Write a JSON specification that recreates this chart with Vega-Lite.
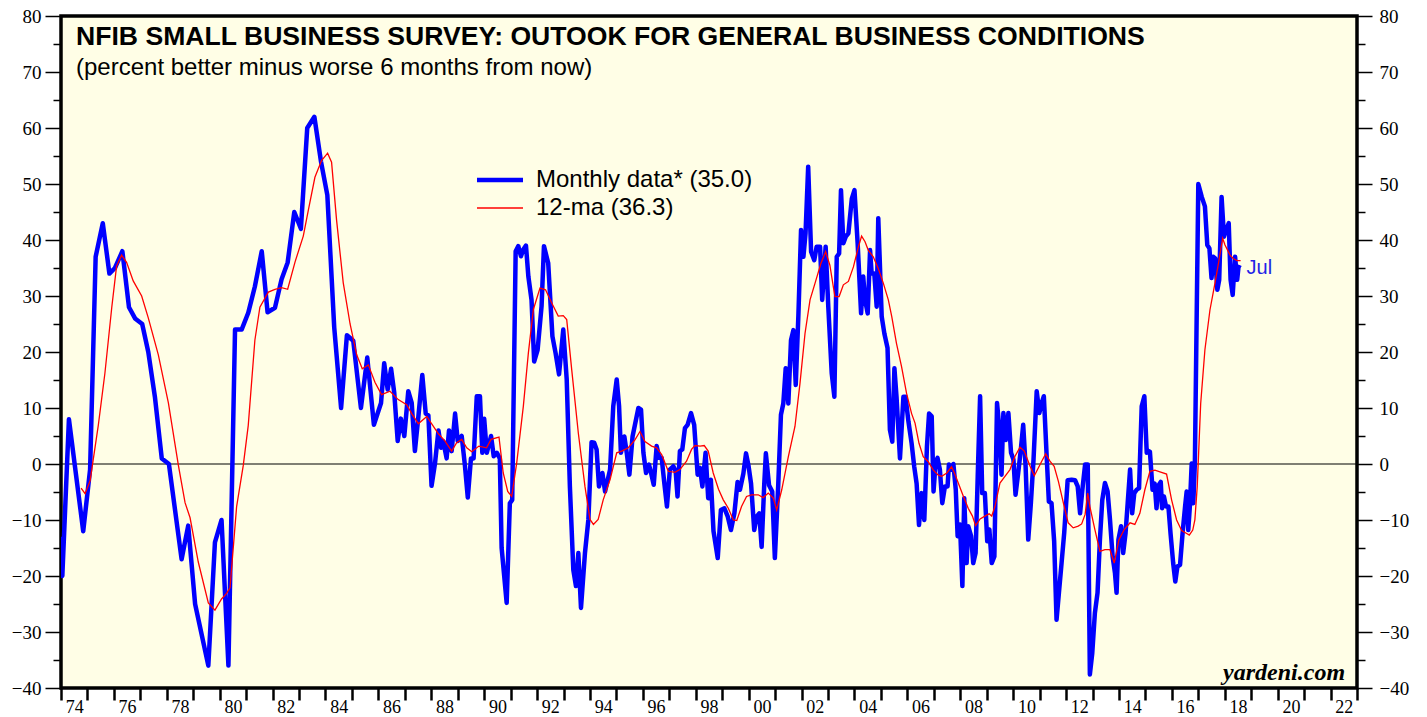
{
"$schema": "https://vega.github.io/schema/vega-lite/v6.json",
"width": 1296,
"height": 672,
"autosize": "none",
"padding": {"left": 61, "top": 16, "right": 70, "bottom": 29},
"background": "white",
"title": {"text": "NFIB SMALL BUSINESS SURVEY: OUTOOK FOR GENERAL BUSINESS CONDITIONS", "subtitle": "(percent better minus worse 6 months from now)", "anchor": "start", "frame": "group", "orient": "top", "dx": 15, "offset": -73, "font": "Liberation Sans", "fontSize": 26.6, "fontWeight": "bold", "color": "black", "subtitleFont": "Liberation Sans", "subtitleFontSize": 24, "subtitleColor": "black", "subtitlePadding": 5},
"datasets": {
"m": [
{"t":1974.0,"v":-13},{"t":1974.05,"v":-20},{"t":1974.3,"v":8},{"t":1974.84,"v":-12},{"t":1975.1,"v":-1},{"t":1975.31,"v":37},{"t":1975.58,"v":43},{"t":1975.83,"v":34},{"t":1976.04,"v":35},{"t":1976.32,"v":38},{"t":1976.57,"v":28},{"t":1976.8,"v":26},{"t":1977.07,"v":25},{"t":1977.3,"v":20},{"t":1977.55,"v":12},{"t":1977.81,"v":1},{"t":1978.08,"v":0},{"t":1978.56,"v":-17},{"t":1978.81,"v":-11},{"t":1979.07,"v":-25},{"t":1979.32,"v":-30.5},{"t":1979.57,"v":-36},{"t":1979.82,"v":-14},{"t":1980.07,"v":-10},{"t":1980.33,"v":-36},{"t":1980.58,"v":24},{"t":1980.83,"v":24},{"t":1981.08,"v":27},{"t":1981.33,"v":31.7},{"t":1981.59,"v":38},{"t":1981.81,"v":27.1},{"t":1982.09,"v":27.9},
{"t":1982.34,"v":33},{"t":1982.57,"v":36},{"t":1982.82,"v":45},{"t":1983.07,"v":42},{"t":1983.31,"v":60},{"t":1983.58,"v":62},{"t":1983.83,"v":54},{"t":1984.07,"v":48},{"t":1984.33,"v":24.4},{"t":1984.59,"v":10},{"t":1984.81,"v":23},{"t":1985.05,"v":22},{"t":1985.34,"v":10},{"t":1985.58,"v":19},{"t":1985.83,"v":7},
{"t":1986.1,"v":10.9},{"t":1986.22,"v":18},{"t":1986.35,"v":13.3},{"t":1986.48,"v":17},{"t":1986.6,"v":12.7},{"t":1986.73,"v":4.1},{"t":1986.85,"v":8.1},{"t":1986.98,"v":5},{"t":1987.13,"v":13},{"t":1987.26,"v":10.9},{"t":1987.38,"v":2.3},{"t":1987.51,"v":8.4},{"t":1987.66,"v":15.9},{"t":1987.79,"v":9},{"t":1987.89,"v":8.7},{"t":1988.01,"v":-3.9},{"t":1988.14,"v":0.1},{"t":1988.27,"v":6},{"t":1988.37,"v":2.9},{"t":1988.45,"v":4.1},{"t":1988.58,"v":1},{"t":1988.67,"v":6},{"t":1988.77,"v":2.3},{"t":1988.9,"v":9},{"t":1989.0,"v":4.1},{"t":1989.15,"v":5},{"t":1989.27,"v":-0.2},{"t":1989.38,"v":-6},{"t":1989.5,"v":1},{"t":1989.6,"v":1},{"t":1989.72,"v":12.1},{"t":1989.84,"v":12.1},{"t":1989.93,"v":2},{"t":1990.0,"v":8.1},{"t":1990.1,"v":2},{"t":1990.26,"v":5},{"t":1990.36,"v":1.4},{"t":1990.48,"v":2},{"t":1990.59,"v":1},
{"t":1990.66,"v":-15},{"t":1990.85,"v":-24.8},{"t":1990.97,"v":-7},{"t":1991.06,"v":-6.4},{"t":1991.19,"v":38},{"t":1991.29,"v":38.9},{"t":1991.39,"v":37.1},{"t":1991.48,"v":38.3},{"t":1991.58,"v":39},{"t":1991.67,"v":33.5},{"t":1991.79,"v":29.3},{"t":1991.89,"v":18.3},{"t":1992.02,"v":20.4},{"t":1992.17,"v":28.2},{"t":1992.26,"v":38.9},{"t":1992.42,"v":35.9},{"t":1992.58,"v":22.8},{"t":1992.7,"v":19.8},{"t":1992.83,"v":16},{"t":1992.99,"v":24},{"t":1993.12,"v":15.1},{"t":1993.24,"v":-4},{"t":1993.37,"v":-18.9},{"t":1993.47,"v":-21.8},{"t":1993.56,"v":-15.9},{"t":1993.66,"v":-25.7},{"t":1993.81,"v":-15.9},{"t":1993.94,"v":-9.9},{"t":1994.06,"v":3.9},{"t":1994.16,"v":3.8},{"t":1994.25,"v":2.6},{"t":1994.34,"v":-4},{"t":1994.47,"v":-1.6},{"t":1994.57,"v":-4.9},{"t":1994.76,"v":-1},{"t":1994.88,"v":10.3},{"t":1995.01,"v":15.1},{"t":1995.1,"v":10.3},{"t":1995.17,"v":2},{"t":1995.3,"v":4.9},{"t":1995.39,"v":2},{"t":1995.49,"v":-1.9},{"t":1995.61,"v":4.9},{"t":1995.83,"v":10},{"t":1995.93,"v":9.7},{"t":1996.02,"v":2},{"t":1996.12,"v":-1.6},{"t":1996.23,"v":-0.1},{"t":1996.31,"v":-1.6},{"t":1996.41,"v":-3.7},{"t":1996.52,"v":3.2},{"t":1996.62,"v":1.1},{"t":1996.71,"v":1.1},{"t":1996.81,"v":-3.4},{"t":1996.91,"v":-7.6},{"t":1997.02,"v":-1},{"t":1997.15,"v":-0.4},{"t":1997.24,"v":-1.3},{"t":1997.31,"v":-5.8},{"t":1997.4,"v":2.3},{"t":1997.49,"v":2.6},{"t":1997.59,"v":6.4},{"t":1997.69,"v":7},{"t":1997.82,"v":9.1},{"t":1997.94,"v":7},{"t":1998.07,"v":-1.9},{"t":1998.16,"v":-0.7},{"t":1998.25,"v":-4},{"t":1998.37,"v":2},{"t":1998.47,"v":-6.1},{"t":1998.57,"v":-2.8},{"t":1998.67,"v":-12},
{"t":1998.83,"v":-16.8},{"t":1998.95,"v":-8.2},{"t":1999.08,"v":-7.9},{"t":1999.21,"v":-9.4},{"t":1999.33,"v":-11.8},{"t":1999.46,"v":-8.8},{"t":1999.58,"v":-3.2},{"t":1999.67,"v":-4.6},{"t":1999.8,"v":-1.7},{"t":1999.9,"v":1.9},{"t":1999.99,"v":-0.2},{"t":2000.09,"v":-3.5},{"t":2000.21,"v":-11.8},{"t":2000.3,"v":-9.4},{"t":2000.4,"v":-8.8},{"t":2000.49,"v":-14.8},{"t":2000.59,"v":-3.5},{"t":2000.65,"v":1.9},{"t":2000.77,"v":-3.8},{"t":2000.89,"v":-4.9},{"t":2000.99,"v":-16.8},{"t":2001.12,"v":-3.5},{"t":2001.22,"v":8.8},{"t":2001.31,"v":10.8},{"t":2001.4,"v":17.1},{"t":2001.5,"v":10.8},{"t":2001.6,"v":22.1},{"t":2001.69,"v":23.9},{"t":2001.78,"v":14.1},{"t":2001.88,"v":26.6},{"t":2001.98,"v":41.8},{"t":2002.07,"v":37},{"t":2002.15,"v":41.2},{"t":2002.25,"v":53.1},{"t":2002.36,"v":37.9},{"t":2002.48,"v":36.4},{"t":2002.57,"v":38.8},{"t":2002.7,"v":38.8},{"t":2002.78,"v":29.3},{"t":2002.91,"v":38.8},{"t":2003.01,"v":28.1},{"t":2003.14,"v":16.2},{"t":2003.24,"v":12},{"t":2003.33,"v":37},{"t":2003.42,"v":37.6},{"t":2003.49,"v":48.9},{"t":2003.58,"v":39.4},{"t":2003.67,"v":40.6},{"t":2003.77,"v":41.2},{"t":2003.9,"v":47.4},{"t":2004.0,"v":48.9},{"t":2004.12,"v":39.4},{"t":2004.25,"v":26.9},{"t":2004.33,"v":33.5},{"t":2004.4,"v":29.3},{"t":2004.5,"v":26.9},{"t":2004.59,"v":38.2},{"t":2004.65,"v":34},{"t":2004.75,"v":34},{"t":2004.84,"v":28.1},{"t":2004.9,"v":43.9},{"t":2005.03,"v":26.3},{"t":2005.13,"v":23.3},{"t":2005.25,"v":20.7},{"t":2005.34,"v":6.1},{"t":2005.43,"v":4},{"t":2005.51,"v":17.1},{"t":2005.59,"v":12},{"t":2005.72,"v":1},{"t":2005.85,"v":12},{"t":2005.93,"v":12},{"t":2006.04,"v":7.6},{"t":2006.16,"v":3.7},{"t":2006.26,"v":-0.5},{"t":2006.35,"v":-3.5},{"t":2006.44,"v":-10.9},{"t":2006.54,"v":-5.2},{"t":2006.64,"v":-10},{"t":2006.74,"v":3.1},{"t":2006.82,"v":9},{"t":2006.92,"v":8.5},{"t":2006.99,"v":-4.9},
{"t":2007.07,"v":0.4},{"t":2007.14,"v":1.1},{"t":2007.23,"v":-1},{"t":2007.32,"v":-7},{"t":2007.42,"v":-4},{"t":2007.52,"v":-4},{"t":2007.57,"v":-0.1},{"t":2007.67,"v":-1},{"t":2007.74,"v":0},{"t":2007.83,"v":-4.6},{"t":2007.9,"v":-12.9},{"t":2007.99,"v":-10.8},{"t":2008.08,"v":-21.8},{"t":2008.15,"v":-6.1},{"t":2008.24,"v":-17.7},{"t":2008.3,"v":-11.1},{"t":2008.41,"v":-12.9},{"t":2008.49,"v":-17.7},{"t":2008.58,"v":-15.9},{"t":2008.66,"v":-2.2},{"t":2008.75,"v":12.1},{"t":2008.83,"v":-5.2},{"t":2008.93,"v":-5.2},{"t":2009.02,"v":-13.8},{"t":2009.1,"v":-11.7},{"t":2009.19,"v":-17.7},{"t":2009.29,"v":-16.5},{"t":2009.39,"v":10.9},{"t":2009.46,"v":7.3},{"t":2009.56,"v":-1.9},{"t":2009.63,"v":9.1},{"t":2009.72,"v":4.3},{"t":2009.82,"v":9.1},{"t":2009.92,"v":2},{"t":2010.01,"v":0.8},{"t":2010.09,"v":-5.5},{"t":2010.19,"v":-1.6},{"t":2010.29,"v":2.6},{"t":2010.38,"v":7},{"t":2010.47,"v":-0.4},{"t":2010.57,"v":-13.5},{"t":2010.67,"v":-7},{"t":2010.77,"v":0.8},{"t":2010.89,"v":13},{"t":2010.99,"v":9.1},{"t":2011.08,"v":10.9},{"t":2011.16,"v":12.1},{"t":2011.27,"v":1.1},{"t":2011.35,"v":-6.7},{"t":2011.45,"v":-7},{"t":2011.55,"v":-13.8},{"t":2011.64,"v":-27.8},{"t":2011.73,"v":-23},{"t":2011.83,"v":-17.7},{"t":2011.93,"v":-12.3},{"t":2012.06,"v":-2.9},{"t":2012.21,"v":-2.8},{"t":2012.34,"v":-2.9},{"t":2012.44,"v":-4},{"t":2012.53,"v":-8.8},{"t":2012.63,"v":-4},{"t":2012.72,"v":-0.1},{"t":2012.82,"v":-0.1},{"t":2012.9,"v":-37.6},{"t":2012.99,"v":-33.8},{"t":2013.09,"v":-26.6},{"t":2013.19,"v":-23},{"t":2013.28,"v":-13.5},{"t":2013.37,"v":-6.4},{"t":2013.47,"v":-3.4},{"t":2013.57,"v":-4.9},{"t":2013.66,"v":-9.9},{"t":2013.76,"v":-16.5},{"t":2013.85,"v":-19.5},{"t":2013.91,"v":-23},{"t":2013.98,"v":-13.5},{"t":2014.08,"v":-11.1},{"t":2014.16,"v":-15.9},{"t":2014.25,"v":-12.3},{"t":2014.33,"v":-7},{"t":2014.42,"v":-1},{"t":2014.5,"v":-8.8},{"t":2014.58,"v":-5.2},{"t":2014.67,"v":-4.6},{"t":2014.76,"v":-4.3},{"t":2014.86,"v":10.3},{"t":2014.96,"v":12.1},{"t":2015.05,"v":2},{"t":2015.13,"v":2.3},
{"t":2015.17,"v":2.2},{"t":2015.27,"v":-4.6},{"t":2015.35,"v":-3.5},{"t":2015.42,"v":-7.9},{"t":2015.5,"v":-3.8},{"t":2015.58,"v":-3.2},{"t":2015.63,"v":-7.9},{"t":2015.7,"v":-5.8},{"t":2015.78,"v":-7.6},{"t":2015.87,"v":-7.6},{"t":2015.95,"v":-12.4},{"t":2016.05,"v":-17.7},{"t":2016.13,"v":-21},{"t":2016.21,"v":-18.3},{"t":2016.31,"v":-18},{"t":2016.41,"v":-12.1},{"t":2016.5,"v":-7.6},{"t":2016.56,"v":-4.9},{"t":2016.62,"v":-11.8},{"t":2016.68,"v":-7.6},{"t":2016.75,"v":0.1},{"t":2016.81,"v":-7},{"t":2016.87,"v":0.1},{"t":2017.0,"v":50},{"t":2017.13,"v":47.7},{"t":2017.25,"v":46},{"t":2017.34,"v":39.1},{"t":2017.42,"v":38.5},{"t":2017.5,"v":33.2},{"t":2017.57,"v":37},{"t":2017.64,"v":36.7},{"t":2017.72,"v":31.1},{"t":2017.79,"v":32.9},{"t":2017.88,"v":47.7},{"t":2017.97,"v":40.6},{"t":2018.05,"v":41.8},{"t":2018.15,"v":43},{"t":2018.22,"v":32.9},{"t":2018.3,"v":30.2},{"t":2018.39,"v":37},{"t":2018.47,"v":32.9},{"t":2018.52,"v":35.2},{"t":2018.6,"v":35}
],
"ma": [
{"t":1974.76,"v":-4.3},{"t":1974.91,"v":-5.3},{"t":1975.1,"v":-3},{"t":1975.41,"v":6.9},{"t":1975.66,"v":16.2},{"t":1975.92,"v":28},{"t":1976.1,"v":35.3},{"t":1976.29,"v":37.3},{"t":1976.48,"v":36},{"t":1976.73,"v":32.7},{"t":1977.05,"v":30},{"t":1977.3,"v":26.1},{"t":1977.68,"v":19.5},{"t":1978.06,"v":10.9},{"t":1978.44,"v":-0.3},{"t":1978.69,"v":-6.9},{"t":1978.88,"v":-9.6},{"t":1979.19,"v":-17.5},{"t":1979.57,"v":-24.8},{"t":1979.82,"v":-26.1},{"t":1980.07,"v":-24.1},{"t":1980.26,"v":-23.1},{"t":1980.39,"v":-22.1},{"t":1980.64,"v":-7.6},{"t":1980.89,"v":-0.3},{"t":1981.08,"v":6.9},{"t":1981.33,"v":22.1},{"t":1981.52,"v":28},{"t":1981.84,"v":30.7},{"t":1982.09,"v":31.2},{"t":1982.34,"v":31.5},{"t":1982.57,"v":31.2},{"t":1982.85,"v":36.1},{"t":1983.16,"v":40.7},{"t":1983.35,"v":45.3},{"t":1983.6,"v":51.2},{"t":1983.85,"v":54.2},{"t":1984.08,"v":55.5},{"t":1984.23,"v":53.9},{"t":1984.42,"v":43.5},{"t":1984.67,"v":32.4},{"t":1984.93,"v":25},{"t":1985.18,"v":19.5},{"t":1985.39,"v":17},{"t":1985.62,"v":17.7},{"t":1985.87,"v":14.6},{"t":1986.12,"v":12.4},{"t":1986.44,"v":13},{"t":1986.75,"v":11.5},{"t":1987.07,"v":10.6},{"t":1987.26,"v":9},{"t":1987.51,"v":7.2},{"t":1987.83,"v":8.5},{"t":1988.01,"v":7.2},{"t":1988.27,"v":5.4},{"t":1988.52,"v":4.1},{"t":1988.77,"v":2.3},{"t":1988.96,"v":3.8},{"t":1989.15,"v":4.4},{"t":1989.34,"v":2.9},{"t":1989.53,"v":2.2},{"t":1989.8,"v":3.2},{"t":1990.09,"v":2.9},{"t":1990.26,"v":4.4},{"t":1990.56,"v":4.8},{"t":1990.72,"v":-1.6},{"t":1990.89,"v":-4.9},{"t":1991.04,"v":-5.8},{"t":1991.23,"v":0.2},{"t":1991.48,"v":10.3},{"t":1991.67,"v":19.8},{"t":1991.86,"v":27.6},{"t":1992.11,"v":31.4},{"t":1992.32,"v":31.1},{"t":1992.55,"v":28.8},{"t":1992.8,"v":26.4},{"t":1992.99,"v":26.5},{"t":1993.12,"v":25.8},{"t":1993.31,"v":16.8},{"t":1993.56,"v":5.5},{"t":1993.81,"v":-4},{"t":1994.0,"v":-9.9},{"t":1994.13,"v":-10.8},{"t":1994.31,"v":-9.9},{"t":1994.5,"v":-6.4},{"t":1994.76,"v":-2.8},{"t":1995.01,"v":2},{"t":1995.2,"v":2.3},{"t":1995.45,"v":2.9},{"t":1995.7,"v":4.3},{"t":1995.89,"v":5.8},{"t":1996.08,"v":4},{"t":1996.33,"v":3.2},{"t":1996.52,"v":2.9},{"t":1996.71,"v":1.7},{"t":1996.96,"v":-1.3},{"t":1997.21,"v":-1.5},{"t":1997.4,"v":-1},{"t":1997.65,"v":0.5},{"t":1997.84,"v":2.6},{"t":1997.97,"v":3.3},{"t":1998.16,"v":3.2},{"t":1998.32,"v":3.3},{"t":1998.47,"v":2.3},{"t":1998.66,"v":-1.6},{"t":1998.86,"v":-4.5},{"t":1999.04,"v":-6.4},{"t":1999.23,"v":-7.9},{"t":1999.42,"v":-10},{"t":1999.55,"v":-10.1},{"t":1999.73,"v":-7.6},{"t":1999.92,"v":-5.8},{"t":2000.11,"v":-5.5},{"t":2000.36,"v":-5.5},{"t":2000.55,"v":-6},{"t":2000.74,"v":-5.2},{"t":2000.93,"v":-6.1},{"t":2001.06,"v":-8.2},{"t":2001.25,"v":-4.6},{"t":2001.5,"v":1.3},{"t":2001.75,"v":6.7},{"t":2001.94,"v":14.4},{"t":2002.13,"v":23.3},{"t":2002.32,"v":29.3},{"t":2002.51,"v":32.3},{"t":2002.73,"v":35.8},{"t":2002.91,"v":37.9},{"t":2003.07,"v":35.5},{"t":2003.26,"v":29.9},{"t":2003.42,"v":29.9},{"t":2003.58,"v":32},{"t":2003.77,"v":32.6},{"t":2003.96,"v":35.2},{"t":2004.15,"v":38.8},{"t":2004.27,"v":40.7},{"t":2004.4,"v":39.7},{"t":2004.52,"v":38.2},{"t":2004.71,"v":37},{"t":2004.9,"v":34.9},{"t":2005.09,"v":32.3},{"t":2005.28,"v":29.3},{"t":2005.41,"v":26.3},{"t":2005.59,"v":21.5},{"t":2005.78,"v":17.4},{"t":2005.97,"v":12.6},{"t":2006.16,"v":9},{"t":2006.29,"v":7.3},{"t":2006.44,"v":3.7},{"t":2006.6,"v":1.3},{"t":2006.79,"v":0.4},{"t":2006.98,"v":-1.1},{"t":2007.17,"v":-2},{"t":2007.3,"v":-2.2},{"t":2007.49,"v":-1.6},{"t":2007.67,"v":-0.5},{"t":2007.78,"v":-1.6},{"t":2007.95,"v":-3.7},{"t":2008.12,"v":-5.8},{"t":2008.3,"v":-7.9},{"t":2008.46,"v":-9.3},{"t":2008.58,"v":-11},{"t":2008.75,"v":-9.8},{"t":2008.93,"v":-9.3},{"t":2009.09,"v":-8.9},{"t":2009.19,"v":-9.3},{"t":2009.31,"v":-7.6},{"t":2009.5,"v":-3.4},{"t":2009.69,"v":-2.2},{"t":2009.88,"v":-1},{"t":2010.07,"v":1.4},{"t":2010.26,"v":3},{"t":2010.42,"v":2.3},{"t":2010.64,"v":-0.4},{"t":2010.8,"v":-2.1},{"t":2010.95,"v":-0.7},{"t":2011.08,"v":0.5},{"t":2011.23,"v":1.8},{"t":2011.39,"v":0.5},{"t":2011.55,"v":-0.4},{"t":2011.71,"v":-3.1},{"t":2011.9,"v":-7},{"t":2012.08,"v":-10.5},{"t":2012.27,"v":-11.4},{"t":2012.46,"v":-11.1},{"t":2012.59,"v":-10.7},{"t":2012.72,"v":-9},{"t":2012.82,"v":-5.2},{"t":2012.9,"v":-7.6},{"t":2013.09,"v":-11.7},{"t":2013.28,"v":-15.6},{"t":2013.47,"v":-15.3},{"t":2013.66,"v":-15.3},{"t":2013.82,"v":-17.7},{"t":2014.0,"v":-13.5},{"t":2014.2,"v":-11.7},{"t":2014.42,"v":-10.5},{"t":2014.6,"v":-10.8},{"t":2014.79,"v":-8.8},{"t":2014.98,"v":-4.6},{"t":2015.17,"v":-1.3},{"t":2015.36,"v":-1.1},{"t":2015.55,"v":-1.4},{"t":2015.8,"v":-1.8},{"t":2015.99,"v":-6.4},{"t":2016.18,"v":-10},{"t":2016.37,"v":-11.9},{"t":2016.56,"v":-12.4},{"t":2016.66,"v":-12.7},{"t":2016.79,"v":-11.8},{"t":2016.87,"v":-10},{"t":2016.96,"v":-4},{"t":2017.09,"v":10.8},{"t":2017.25,"v":20.4},{"t":2017.44,"v":27.5},{"t":2017.63,"v":32.3},{"t":2017.76,"v":35.8},{"t":2017.92,"v":40.3},{"t":2018.01,"v":39.1},{"t":2018.2,"v":37.3},{"t":2018.32,"v":36.7},{"t":2018.47,"v":36.3},{"t":2018.6,"v":36.3}
],
"last": [{"t":2018.6,"v":35,"label":"Jul"}],
"zero": [{"v":0}],
"src": [{"site":"yardeni.com"}]
},
"resolve": {"axis": {"x": "independent", "y": "independent"}},
"layer": [
{
"data": {"name": "zero"},
"mark": {"type": "rule", "color": "black", "strokeWidth": 1.2},
"encoding": {
"y": {"field": "v", "type": "quantitative", "scale": {"domain": [-40, 80], "nice": false, "zero": false},
"axis": {"orient": "left", "title": null, "values": [-40,-30,-20,-10,0,10,20,30,40,50,60,70,80], "tickSize": 16, "tickWidth": 1.5, "tickColor": "black", "labelPadding": 4, "domain": false, "grid": false, "labelFont": "Liberation Serif", "labelFontSize": 19, "labelColor": "black"}}
}
},
{
"data": {"name": "m"},
"mark": {"type": "line", "strokeWidth": 4.5, "strokeJoin": "round", "clip": true},
"encoding": {
"x": {"field": "t", "type": "quantitative", "scale": {"domain": [1974, 2023], "nice": false, "zero": false},
"axis": {"orient": "bottom", "title": null, "values": [1974,1975,1976,1977,1978,1979,1980,1981,1982,1983,1984,1985,1986,1987,1988,1989,1990,1991,1992,1993,1994,1995,1996,1997,1998,1999,2000,2001,2002,2003,2004,2005,2006,2007,2008,2009,2010,2011,2012,2013,2014,2015,2016,2017,2018,2019,2020,2021,2022,2023], "labels": false, "tickSize": 12, "tickWidth": 2.5, "tickColor": "black", "domain": false, "grid": false}},
"y": {"field": "v", "type": "quantitative", "scale": {"domain": [-40, 80], "nice": false, "zero": false},
"axis": {"orient": "left", "title": null, "values": [-35,-25,-15,-5,5,15,25,35,45,55,65,75], "labels": false, "tickSize": 8, "tickWidth": 1.5, "tickColor": "black", "domain": false, "grid": false}},
"color": {"datum": "Monthly data* (35.0)", "type": "nominal", "scale": {"domain": ["Monthly data* (35.0)", "12-ma (36.3)"], "range": ["#0000ff", "#ff0000"]},
"legend": {"orient": "none", "legendX": 427, "legendY": 152, "title": null, "padding": 0, "labelFont": "Liberation Sans", "labelFontSize": 24, "labelColor": "black", "labelLimit": 500, "symbolType": "stroke", "symbolSize": 2116, "symbolStrokeWidth": 4, "labelOffset": 24, "rowPadding": 4,
"encode": {"symbols": {"update": {"strokeWidth": {"signal": "datum.value === '12-ma (36.3)' ? 1.3 : 4.5"}}}}}}
}
},
{
"data": {"name": "ma"},
"mark": {"type": "line", "strokeWidth": 1.3, "clip": true},
"encoding": {
"x": {"field": "t", "type": "quantitative", "scale": {"domain": [1974, 2023], "nice": false, "zero": false},
"axis": {"orient": "bottom", "title": null, "values": [1974.5,1976.5,1978.5,1980.5,1982.5,1984.5,1986.5,1988.5,1990.5,1992.5,1994.5,1996.5,1998.5,2000.5,2002.5,2004.5,2006.5,2008.5,2010.5,2012.5,2014.5,2016.5,2018.5,2020.5,2022.5], "labelExpr": "format(floor(datum.value) % 100, '02d')", "ticks": false, "tickSize": 0, "labelPadding": 10, "labelOverlap": false, "labelFlush": false, "labelBound": false, "domain": false, "grid": false, "labelFont": "Liberation Serif", "labelFontSize": 18, "labelColor": "black"}},
"y": {"field": "v", "type": "quantitative", "scale": {"domain": [-40, 80], "nice": false, "zero": false},
"axis": {"orient": "right", "title": null, "values": [-40,-30,-20,-10,0,10,20,30,40,50,60,70,80], "tickSize": 15, "tickWidth": 1.5, "tickColor": "black", "labelPadding": 7, "domain": false, "grid": false, "labelFont": "Liberation Serif", "labelFontSize": 19, "labelColor": "black"}},
"color": {"datum": "12-ma (36.3)", "type": "nominal"}
}
},
{
"data": {"name": "last"},
"mark": {"type": "text", "align": "left", "baseline": "middle", "dx": 6, "font": "Liberation Sans", "fontSize": 20, "color": "#2323e6"},
"encoding": {
"x": {"field": "t", "type": "quantitative", "scale": {"domain": [1974, 2023], "nice": false, "zero": false}, "axis": null},
"y": {"field": "v", "type": "quantitative", "scale": {"domain": [-40, 80], "nice": false, "zero": false},
"axis": {"orient": "right", "title": null, "values": [-35,-25,-15,-5,5,15,25,35,45,55,65,75], "labels": false, "tickSize": 8, "tickWidth": 1.5, "tickColor": "black", "domain": false, "grid": false}},
"text": {"field": "label"}
}
},
{
"data": {"name": "src"},
"mark": {"type": "text", "align": "right", "baseline": "alphabetic", "font": "Liberation Serif", "fontStyle": "italic", "fontWeight": "bold", "fontSize": 24, "color": "black"},
"encoding": {
"x": {"datum": 2022.55, "type": "quantitative", "axis": null},
"y": {"datum": -38.6, "type": "quantitative", "axis": null},
"text": {"field": "site"}
}
}
],
"config": {
"view": {"stroke": "black", "strokeWidth": 3.5, "fill": "#fffee6"},
"axis": {"grid": false}
}
}
